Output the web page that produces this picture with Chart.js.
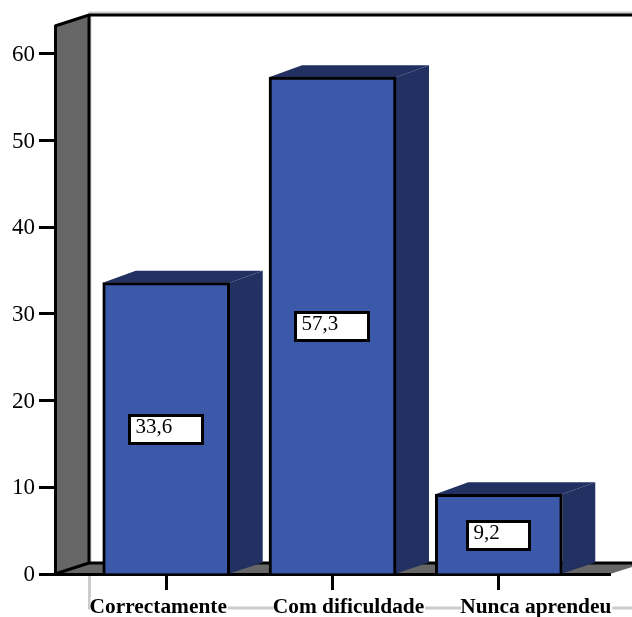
<!DOCTYPE html>
<html>
<head>
<meta charset="utf-8">
<script src="https://cdn.jsdelivr.net/npm/chart.js@4"></script>
<style>
    html, body { margin: 0; padding: 0; background: #fff; }
    canvas { display: block; }
</style>
</head>
<body>
<canvas id="chart" width="632" height="617"></canvas>
<script>
// ===== DATA =====
const categories = ['Correctamente', 'Com dificuldade', 'Nunca aprendeu'];
const values = [33.6, 57.3, 9.2];
const valueLabels = ['33,6', '57,3', '9,2'];
const yTicks = [0, 10, 20, 30, 40, 50, 60];

// ===== STYLE =====
const FRONT = '#3c58a8';
const SHADE = '#223162';
const WALL = '#666666';
const FRAME = '#cccccc';
const SERIF = '"Liberation Serif", serif';
const DEPTH_X = 34;
const DEPTH_Y = 11;
const labelShift = [-8, 16, 37];   // category text sits off its tick in the original
const boxWidth = [73, 73, 62];

function poly(ctx, pts, fill, stroke, width) {
    ctx.beginPath();
    pts.forEach((p, i) => i ? ctx.lineTo(p[0], p[1]) : ctx.moveTo(p[0], p[1]));
    if (fill) { ctx.fillStyle = fill; ctx.fill(); }
    if (stroke) { ctx.strokeStyle = stroke; ctx.lineWidth = width; ctx.lineCap = 'butt'; ctx.stroke(); }
}

// walls and floor behind the bars
const wallsPlugin = {
    id: 'walls',
    beforeDraw(chart) {
        const { ctx, chartArea: a, width } = chart;
        const backX = a.left + DEPTH_X;
        const topY = a.top - DEPTH_Y;
        const floorY = a.bottom - DEPTH_Y;

        poly(ctx, [[backX + 1, floorY], [backX + 1, 13], [width + 2, 13]], null, FRAME, 3);
        poly(ctx, [[backX + 0.5, floorY], [backX + 0.5, 608], [width + 2, 608]], null, FRAME, 3);

        poly(ctx, [[a.left, a.top], [backX, topY], [backX, floorY], [a.left, a.bottom]], WALL);
        poly(ctx, [[a.left, a.bottom], [backX, floorY], [a.right + DEPTH_X, floorY], [a.right, a.bottom]], WALL);
        poly(ctx, [[a.left, a.top], [backX, topY], [width + 2, topY]], null, '#000', 3);
        poly(ctx, [[backX, topY], [backX, floorY], [width + 2, floorY]], null, '#000', 3);
        poly(ctx, [[a.left, a.bottom], [backX, floorY]], null, '#000', 3);
    }
};

// top and side faces of each bar, then the value boxes
const barsPlugin = {
    id: 'bars3d',
    beforeDatasetsDraw(chart) {
        const { ctx } = chart;
        chart.getDatasetMeta(0).data.forEach(bar => {
            const half = bar.width / 2;
            const l = bar.x - half, r = bar.x + half;
            const dx = DEPTH_X - 1;
            poly(ctx, [[l, bar.y], [l + dx, bar.y - DEPTH_Y - 1], [r + dx, bar.y - DEPTH_Y - 1], [r, bar.y]], SHADE);
            poly(ctx, [[r, bar.y], [r + dx, bar.y - DEPTH_Y - 1], [r + dx, bar.base - DEPTH_Y], [r, bar.base]], SHADE);
        });
    },
    afterDatasetsDraw(chart) {
        const { ctx, scales } = chart;
        ctx.save();
        chart.getDatasetMeta(0).data.forEach((bar, i) => {
            const w = boxWidth[i];
            const cy = Math.round((bar.y + bar.base) / 2) + 1.5;
            const x = Math.round(bar.x - w / 2) - 0.5;
            ctx.fillStyle = '#fff';
            ctx.strokeStyle = '#000';
            ctx.lineWidth = 3;
            ctx.fillRect(x, cy - 14, w, 28);
            ctx.strokeRect(x, cy - 14, w, 28);
            ctx.fillStyle = '#000';
            ctx.font = '21px ' + SERIF;
            ctx.textAlign = 'left';
            ctx.textBaseline = 'alphabetic';
            ctx.fillText(valueLabels[i], x + 6, cy + 3);
        });

        // category names, white behind them so the frame line breaks
        ctx.font = 'bold 21.4px ' + SERIF;
        ctx.textAlign = 'center';
        categories.forEach((name, i) => {
            const cx = scales.x.getPixelForValue(i + 1) + labelShift[i];
            const w = ctx.measureText(name).width;
            ctx.fillStyle = '#fff';
            ctx.fillRect(cx - w / 2 + 1, 597, w, 20);
            ctx.fillStyle = '#000';
            ctx.fillText(name, cx, 613);
        });
        ctx.restore();
    }
};

// ===== CHART =====
new Chart(document.getElementById('chart'), {
    type: 'bar',
    data: {
        datasets: [{
            data: values.map((v, i) => ({ x: i + 1, y: v })),
            backgroundColor: FRONT,
            borderColor: '#000',
            borderWidth: 3,
            barThickness: 127
        }]
    },
    plugins: [wallsPlugin, barsPlugin],
    options: {
        responsive: false,
        animation: false,
        layout: { padding: { top: 26, right: 22, left: 0, bottom: 0 } },
        plugins: { legend: { display: false }, tooltip: { enabled: false } },
        scales: {
            x: {
                type: 'linear',
                offset: false,
                min: 0.331,
                max: 3.669,
                afterFit(scale) { scale.height = 43; },
                afterBuildTicks(scale) { scale.ticks = categories.map((c, i) => ({ value: i + 1 })); },
                ticks: { display: false },
                grid: { offset: false, drawOnChartArea: false, tickLength: 16, tickWidth: 3, tickColor: '#000' },
                border: { display: true, color: '#000', width: 3 }
            },
            y: {
                min: 0,
                max: 63.2,
                afterFit(scale) { scale.width = 55; },
                afterBuildTicks(scale) { scale.ticks = yTicks.map(v => ({ value: v })); },
                ticks: { color: '#000', padding: 4, labelOffset: 1, font: { family: SERIF, size: 23 } },
                grid: { drawOnChartArea: false, tickLength: 16, tickWidth: 3, tickColor: '#000' },
                border: { display: true, color: '#000', width: 3 }
            }
        }
    }
});
</script>
</body>
</html>
